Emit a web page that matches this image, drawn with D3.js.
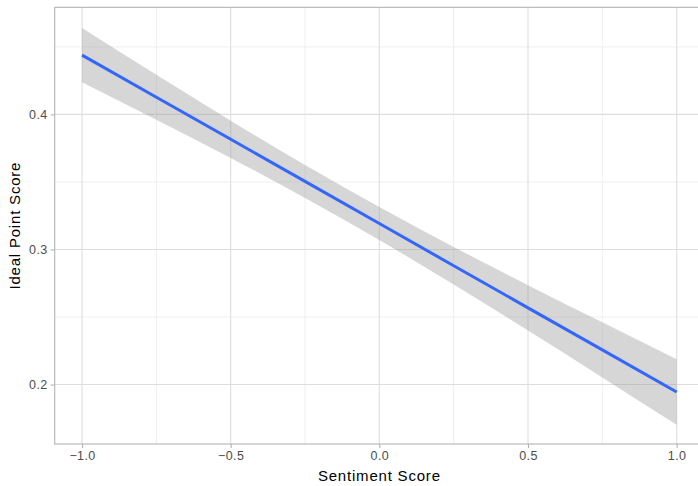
<!DOCTYPE html>
<html>
<head>
<meta charset="utf-8">
<script src="https://cdn.jsdelivr.net/npm/d3@7"></script>
<style>
  html, body { margin: 0; padding: 0; background: #ffffff; }
  svg { display: block; font-family: "Liberation Sans", Arial, Helvetica, sans-serif; }
</style>
</head>
<body>
<svg id="chart" width="698" height="486"></svg>
<script>
// Linear fit of ideal point score on sentiment score, with 95% confidence band
const sentiment = [-1.0, -0.75, -0.5, -0.25, 0.0, 0.25, 0.5, 0.75, 1.0];
const fitted    = [0.4439, 0.4127, 0.3816, 0.3504, 0.3192, 0.2880, 0.2568, 0.2257, 0.1945];
const lower     = [0.4238, 0.3961, 0.3678, 0.3382, 0.3070, 0.2741, 0.2400, 0.2053, 0.1702];
const upper     = [0.4640, 0.4293, 0.3954, 0.3626, 0.3314, 0.3019, 0.2736, 0.2461, 0.2188];

const xMajor = [-1.0, -0.5, 0.0, 0.5, 1.0];
const xMinor = [-0.75, -0.25, 0.25, 0.75];
const yMajor = [0.2, 0.3, 0.4];
const yMinor = [0.25, 0.35, 0.45];

const rows = sentiment.map((s, i) => ({ x: s, fit: fitted[i], lo: lower[i], hi: upper[i] }));

const svg = d3.select("#chart");
const panel = { left: 54.7, right: 704, top: 7.3, bottom: 444 };

const x = d3.scaleLinear().domain([-1.092, 1.092]).range([panel.left, panel.right]);
const y = d3.scaleLinear().domain([0.1560, 0.4793]).range([panel.bottom, panel.top]);

const fmtX = v => d3.format(".1f")(v).replace("-", "\u2212");
const fmtY = d3.format(".1f");

// panel grid
const grid = svg.append("g");
grid.selectAll(".ymin").data(yMinor).join("line")
  .attr("x1", panel.left).attr("x2", panel.right)
  .attr("y1", d => y(d)).attr("y2", d => y(d))
  .attr("stroke", "#ebebeb").attr("stroke-width", 0.8);
grid.selectAll(".xmin").data(xMinor).join("line")
  .attr("y1", panel.top).attr("y2", panel.bottom)
  .attr("x1", d => x(d)).attr("x2", d => x(d))
  .attr("stroke", "#ebebeb").attr("stroke-width", 0.8);
grid.selectAll(".ymaj").data(yMajor).join("line")
  .attr("x1", panel.left).attr("x2", panel.right)
  .attr("y1", d => y(d)).attr("y2", d => y(d))
  .attr("stroke", "#dedede").attr("stroke-width", 1.1);
grid.selectAll(".xmaj").data(xMajor).join("line")
  .attr("y1", panel.top).attr("y2", panel.bottom)
  .attr("x1", d => x(d)).attr("x2", d => x(d))
  .attr("stroke", "#dedede").attr("stroke-width", 1.1);

// confidence band
const band = d3.area()
  .x(d => x(d.x))
  .y0(d => y(d.lo))
  .y1(d => y(d.hi))
  .curve(d3.curveMonotoneX);
svg.append("path").datum(rows)
  .attr("d", band)
  .attr("fill", "#999999").attr("fill-opacity", 0.4);

// fitted line
const line = d3.line().x(d => x(d.x)).y(d => y(d.fit));
svg.append("path").datum(rows)
  .attr("d", line)
  .attr("fill", "none")
  .attr("stroke", "#3366FF")
  .attr("stroke-width", 3);

// panel border
svg.append("rect")
  .attr("x", panel.left).attr("y", panel.top)
  .attr("width", panel.right - panel.left).attr("height", panel.bottom - panel.top)
  .attr("fill", "none").attr("stroke", "#b3b3b3").attr("stroke-width", 1.1);

// axes
const xAxis = d3.axisBottom(x).tickValues(xMajor).tickFormat(fmtX).tickSize(4).tickPadding(3);
const gx = svg.append("g").attr("transform", `translate(0,${panel.bottom})`).call(xAxis);
gx.select(".domain").remove();
gx.selectAll(".tick line").attr("stroke", "#b3b3b3").attr("stroke-width", 1.1);
gx.selectAll(".tick text").attr("fill", "#4d4d4d").attr("font-size", "12.5px")
  .attr("letter-spacing", "0.4px")
  .attr("font-family", "Liberation Sans, Arial, sans-serif");

const yAxis = d3.axisLeft(y).tickValues(yMajor).tickFormat(fmtY).tickSize(4).tickPadding(3);
const gy = svg.append("g").attr("transform", `translate(${panel.left},0)`).call(yAxis);
gy.select(".domain").remove();
gy.selectAll(".tick line").attr("stroke", "#b3b3b3").attr("stroke-width", 1.1);
gy.selectAll(".tick text").attr("fill", "#4d4d4d").attr("font-size", "12.5px")
  .attr("letter-spacing", "0.4px")
  .attr("font-family", "Liberation Sans, Arial, sans-serif");

// axis titles
svg.append("text")
  .attr("x", (panel.left + panel.right) / 2).attr("y", 481)
  .attr("text-anchor", "middle")
  .attr("font-size", "15px").attr("letter-spacing", "0.8px").attr("fill", "#000000")
  .text("Sentiment Score");
svg.append("text")
  .attr("transform", `translate(19.5,${(panel.top + panel.bottom) / 2}) rotate(-90)`)
  .attr("text-anchor", "middle")
  .attr("font-size", "15px").attr("letter-spacing", "0.8px").attr("fill", "#000000")
  .text("Ideal Point Score");
</script>
</body>
</html>
